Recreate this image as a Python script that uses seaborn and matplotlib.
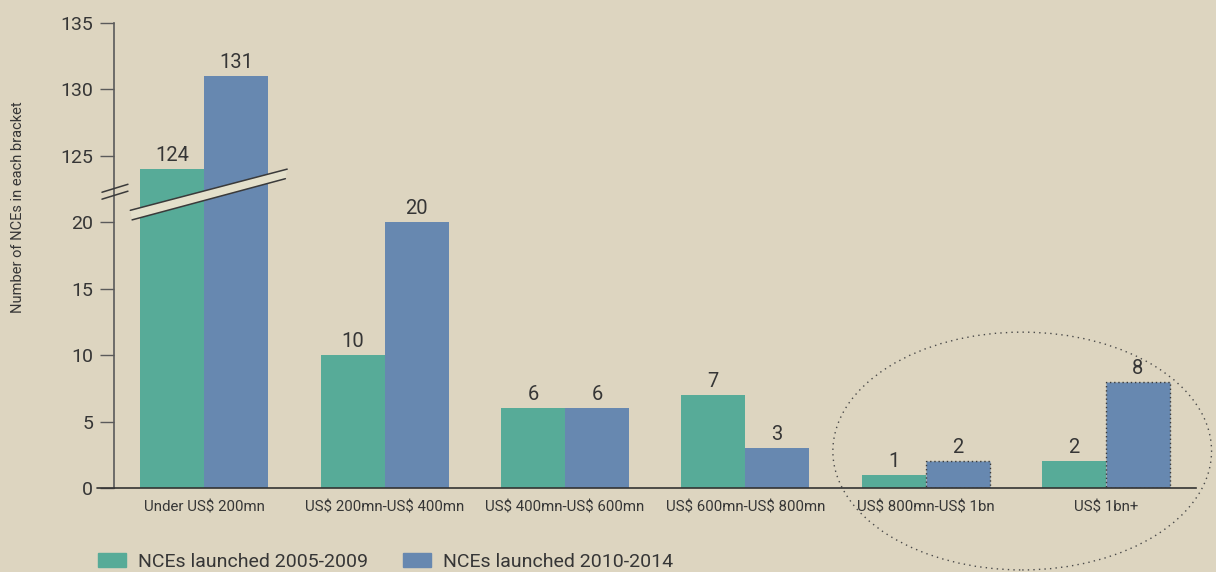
import numpy as np
import pandas as pd
import matplotlib
matplotlib.use('Agg')
import matplotlib.pyplot as plt
import seaborn as sns
from matplotlib.patches import Ellipse, Polygon

brackets = ['Under US$ 200mn', 'US$ 200mn-US$ 400mn', 'US$ 400mn-US$ 600mn',
            'US$ 600mn-US$ 800mn', 'US$ 800mn-US$ 1bn', 'US$ 1bn+']
launched_0509 = [124, 10, 6, 7, 1, 2]
launched_1014 = [131, 20, 6, 3, 2, 8]
series_names = ['NCEs launched 2005-2009', 'NCEs launched 2010-2014']
ytick_values = [0, 5, 10, 15, 20, 125, 130, 135]

bg = '#ddd5c0'
green = '#57ab98'
blue = '#6788b0'
txt = '#363636'

# broken axis: everything above the break is shifted down by 100
break_low, break_high = 20, 125
shift = break_high - break_low - 5


def to_axis(v):
    return v if v <= break_low else v - shift


df = pd.DataFrame({
    'bracket': brackets * 2,
    'series': [series_names[0]] * len(brackets) + [series_names[1]] * len(brackets),
    'value': launched_0509 + launched_1014,
})
df['shown'] = df['value'].apply(to_axis)

sns.set_style('white')
plt.rcParams['font.family'] = ['Roboto', 'DejaVu Sans']
plt.rcParams['text.color'] = txt
plt.rcParams['text.parse_math'] = False

fig = plt.figure(figsize=(12.16, 5.72), dpi=100, facecolor=bg)
ax = fig.add_axes([0.0938, 0.1469, 0.8898, 0.8129])
ax.set_facecolor(bg)

sns.barplot(data=df, x='bracket', y='shown', hue='series', order=brackets,
            hue_order=series_names, palette=[green, blue], width=0.71,
            saturation=1, legend=False, linewidth=0, ax=ax)

ax.set_xlim(-0.5, len(brackets) - 0.5)
ax.set_ylim(0, to_axis(ytick_values[-1]))
ax.set_yticks([to_axis(v) for v in ytick_values])
ax.set_yticklabels([str(v) for v in ytick_values])
ax.set_xlabel('')
ax.set_ylabel('')

for cont, vals in zip(ax.containers, [launched_0509, launched_1014]):
    ax.bar_label(cont, labels=[str(v) for v in vals], padding=3, fontsize=14.5, color=txt)

# dotted outlines on the last two 2010-2014 bars
for bar in list(ax.containers[1])[-2:]:
    bar.set_edgecolor('#3a3a3a')
    bar.set_linestyle((0, (1, 2)))
    bar.set_linewidth(1.0)

for s in ['top', 'right']:
    ax.spines[s].set_visible(False)
ax.spines['left'].set_color('#5a5a5a')
ax.spines['left'].set_linewidth(1.2)
ax.spines['bottom'].set_color('#333333')
ax.spines['bottom'].set_linewidth(1.2)
ax.tick_params(axis='y', length=10, width=1, color='#5a5a5a', labelsize=14,
               labelcolor=txt, left=True, pad=5)
ax.tick_params(axis='x', length=0, labelsize=10.8, labelcolor=txt, pad=9)

# bottom spine extends left of the y axis like the 0 tick
ax.plot([-0.595, -0.5], [0, 0], color='#333333', lw=1.2, clip_on=False)

# break band across the first group
yb = break_low + 0.9
band = Polygon([[-0.41, yb], [0.46, yb + 3.1], [0.45, yb + 3.1 - 0.72], [-0.40, yb - 0.72]],
               closed=True, facecolor='#e4e0cb', edgecolor='none', zorder=5)
ax.add_patch(band)
ax.plot([-0.41, 0.46], [yb, yb + 3.1], color='#3a3a3a', lw=1.1, zorder=6)
ax.plot([-0.40, 0.45], [yb - 0.72, yb + 3.1 - 0.72], color='#3a3a3a', lw=1.1, zorder=6)
for dy in [0, -0.52]:
    ax.plot([-0.567, -0.423], [yb + 1.36 + dy, yb + 1.96 + dy], color='#3a3a3a',
            lw=1.1, clip_on=False, zorder=6)

# dotted ellipse round the two top brackets
ell = Ellipse((4.536, 2.78), width=2.1, height=17.9, fill=False,
              edgecolor='#4a4a4a', lw=1.0, linestyle=(0, (1, 3)), clip_on=False)
ax.add_patch(ell)

fig.text(18 / 1216, 1 - 207 / 572, 'Number of NCEs in each bracket', rotation=90,
         ha='center', va='center', fontsize=10.5, color=txt)

handles = [plt.Rectangle((0, 0), 1, 1, color=c) for c in [green, blue]]
fig.legend(handles, series_names, loc='center left', bbox_to_anchor=(0.081, 0.018),
           ncol=2, frameon=False, fontsize=14, handlelength=1.4, handleheight=0.75,
           handletextpad=0.65, columnspacing=1.8, borderpad=0, borderaxespad=0)

fig.savefig('out.png', dpi=100, facecolor=bg)
